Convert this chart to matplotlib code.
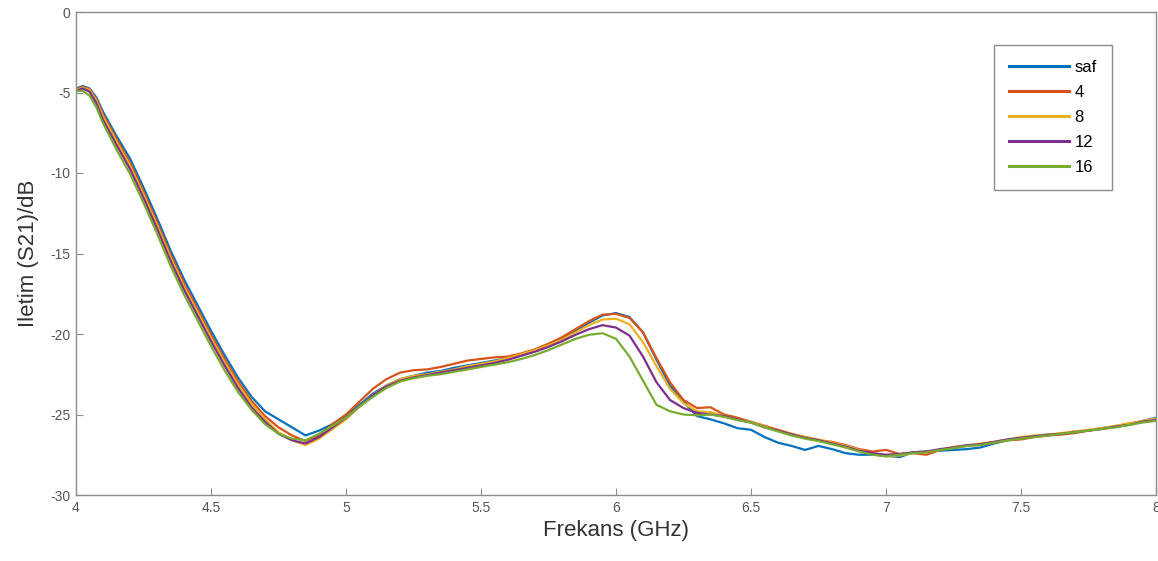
import matplotlib
matplotlib.use('Agg')
import matplotlib.pyplot as plt
import numpy as np

plt.rcParams['font.family'] = ['Liberation Sans', 'DejaVu Sans']
plt.rcParams['axes.unicode_minus'] = False

# frequency grid (GHz)
freq = [4.0, 4.025, 4.05, 4.075] + list(np.round(np.arange(4.1, 8.001, 0.05), 3))

saf = [-4.75, -4.6, -4.75, -5.3, -6.2, -7.7, -9.1, -10.9, -12.8, -14.8, -16.6, -18.2, -19.8,
       -21.3, -22.7, -23.9, -24.8, -25.3, -25.8, -26.3, -26.0, -25.6, -25.1, -24.4, -23.7,
       -23.2, -22.8, -22.6, -22.4, -22.3, -22.1, -21.95, -21.8, -21.65, -21.5, -21.25, -21.0,
       -20.7, -20.3, -19.8, -19.3, -18.85, -18.7, -18.95, -19.9, -21.6, -23.2, -24.2, -25.1,
       -25.3, -25.55, -25.85, -25.95, -26.4, -26.75, -26.95, -27.2, -26.95, -27.15, -27.4,
       -27.5, -27.5, -27.55, -27.65, -27.35, -27.3, -27.25, -27.2, -27.15, -27.05, -26.8,
       -26.6, -26.45, -26.35, -26.3, -26.2, -26.05, -26.0, -25.85, -25.75, -25.6, -25.4, -25.2]

s4 = [-4.8, -4.65, -4.8, -5.4, -6.35, -7.9, -9.35, -11.15, -13.05, -15.05, -16.85, -18.45,
      -20.05, -21.55, -22.95, -24.15, -25.1, -25.8, -26.3, -26.65, -26.3, -25.6, -25.0, -24.2,
      -23.4, -22.8, -22.4, -22.25, -22.2, -22.05, -21.85, -21.65, -21.55, -21.45, -21.4, -21.2,
      -20.95, -20.6, -20.2, -19.7, -19.2, -18.8, -18.75, -19.0, -19.9, -21.5, -23.0, -24.1,
      -24.6, -24.55, -25.0, -25.2, -25.45, -25.7, -25.95, -26.2, -26.4, -26.6, -26.7, -26.9,
      -27.15, -27.3, -27.2, -27.45, -27.4, -27.5, -27.2, -27.05, -26.95, -26.85, -26.75, -26.6,
      -26.55, -26.4, -26.3, -26.25, -26.15, -26.0, -25.85, -25.75, -25.55, -25.45, -25.3]

s8 = [-4.85, -4.7, -4.85, -5.5, -6.5, -8.05, -9.55, -11.35, -13.25, -15.25, -17.05, -18.65,
      -20.25, -21.75, -23.15, -24.35, -25.3, -26.1, -26.6, -26.9, -26.5, -25.9, -25.3, -24.5,
      -23.8, -23.2, -22.8, -22.6, -22.5, -22.35, -22.2, -22.0, -21.85, -21.7, -21.5, -21.25,
      -21.0, -20.7, -20.35, -19.9, -19.45, -19.1, -19.05, -19.4, -20.5, -22.0, -23.4, -24.3,
      -24.8, -24.85, -25.1, -25.3, -25.45, -25.75, -26.0, -26.25, -26.4, -26.55, -26.75,
      -26.95, -27.2, -27.45, -27.6, -27.55, -27.4, -27.3, -27.2, -27.0, -26.95, -26.8, -26.7,
      -26.55, -26.4, -26.3, -26.25, -26.15, -26.05, -25.95, -25.85, -25.7, -25.55, -25.4, -25.25]

s12 = [-4.9, -4.75, -4.95, -5.65, -6.7, -8.25, -9.75, -11.55, -13.45, -15.45, -17.25, -18.85,
       -20.45, -21.95, -23.35, -24.55, -25.45, -26.2, -26.6, -26.8, -26.4, -25.8, -25.2, -24.5,
       -23.8, -23.25, -22.9, -22.7, -22.55, -22.4, -22.25, -22.1, -21.95, -21.8, -21.6, -21.35,
       -21.1, -20.8, -20.45, -20.05, -19.7, -19.45, -19.6, -20.1, -21.4, -23.0, -24.1, -24.6,
       -24.9, -25.0, -25.1, -25.3, -25.5, -25.8, -26.0, -26.25, -26.45, -26.6, -26.8, -27.0,
       -27.25, -27.4, -27.5, -27.45, -27.35, -27.3, -27.15, -27.05, -26.9, -26.85, -26.7,
       -26.55, -26.45, -26.35, -26.25, -26.2, -26.1, -26.0, -25.9, -25.75, -25.65, -25.45, -25.35]

s16 = [-4.9, -4.9, -5.2, -5.9, -6.9, -8.55, -10.05, -11.85, -13.75, -15.75, -17.55, -19.15,
       -20.75, -22.25, -23.6, -24.7, -25.6, -26.2, -26.5, -26.6, -26.2, -25.7, -25.2, -24.5,
       -23.9, -23.35, -22.95, -22.75, -22.6, -22.5, -22.35, -22.2, -22.05, -21.9, -21.75, -21.55,
       -21.3, -21.0, -20.65, -20.3, -20.05, -19.95, -20.3, -21.4, -22.9, -24.4, -24.8, -25.0,
       -25.05, -25.0, -25.15, -25.35, -25.5, -25.8, -26.05, -26.3, -26.5, -26.65, -26.85,
       -27.05, -27.3, -27.5, -27.6, -27.5, -27.4, -27.35, -27.2, -27.1, -26.95, -26.9, -26.75,
       -26.6, -26.5, -26.4, -26.3, -26.2, -26.1, -26.0, -25.9, -25.8, -25.65, -25.5, -25.4]

labels = ['saf', '4', '8', '12', '16']
colors = ['#0072BD', '#D95319', '#EDB120', '#7E2F8E', '#77AC30']

fig = plt.figure(figsize=(11.58, 5.61), dpi=100)
ax = fig.add_axes([76/1158, 66/561, 1080/1158, 483/561])

for ys, lab, c in zip([saf, s4, s8, s12, s16], labels, colors):
    ax.plot(freq, ys, color=c, linewidth=1.6, label=lab)

ax.set_xlim(4, 8)
ax.set_ylim(-30, 0)
ax.set_xticks([4, 4.5, 5, 5.5, 6, 6.5, 7, 7.5, 8])
ax.set_xticklabels(['4', '4.5', '5', '5.5', '6', '6.5', '7', '7.5', '8'])
ax.set_yticks([-30, -25, -20, -15, -10, -5, 0])

for sp in ax.spines.values():
    sp.set_color('#8c8c8c')
    sp.set_linewidth(1.0)
ax.tick_params(direction='in', length=5, color='#8c8c8c', labelsize=10,
               labelcolor='#555555', pad=4)

ax.set_xlabel('Frekans (GHz)', fontsize=16, color='#333333', labelpad=4)
ax.set_ylabel('Iletim (S21)/dB', fontsize=16, color='#333333', labelpad=8)

leg = ax.legend(loc='upper right', bbox_to_anchor=(0.959, 0.932), borderaxespad=0,
                fontsize=12, handlelength=3.6, labelspacing=0.6, handletextpad=0.3,
                fancybox=False, framealpha=1, borderpad=0.9)
leg.get_frame().set_edgecolor('#8c8c8c')
leg.get_frame().set_linewidth(1.0)
for line in leg.get_lines():
    line.set_linewidth(2.2)

fig.savefig('out.png', dpi=100)
